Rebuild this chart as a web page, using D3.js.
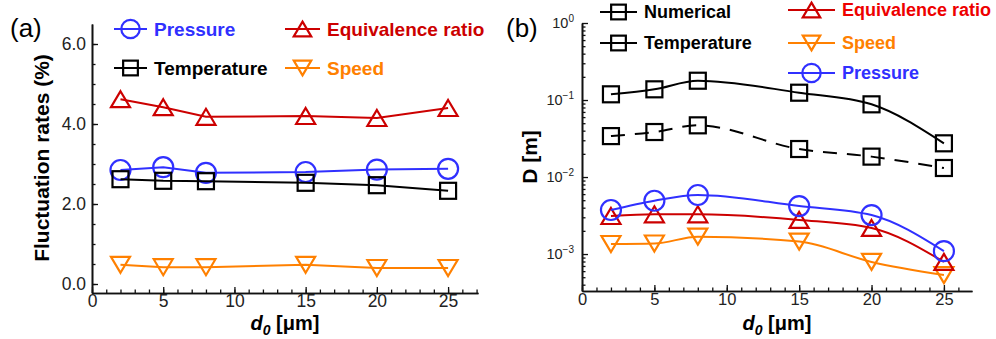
<!DOCTYPE html>
<html>
<head>
<meta charset="utf-8">
<script src="https://cdn.jsdelivr.net/npm/d3@7"></script>
<style>
  body { margin: 0; background: #fff; }
  text { font-family: "Liberation Sans", Arial, sans-serif; }
  .legendText, .axisTitle { font-weight: bold; }
  .tick text { fill: #222; }
</style>
</head>
<body>
<div id="chart"></div>
<script>
// Droplet diameters (x values, um)
var diameters = [2, 5, 8, 15, 20, 25];

// (a) fluctuation rates (%)
var fluctPressure = [2.85, 2.92, 2.78, 2.8, 2.86, 2.88];
var fluctTemperature = [2.62, 2.58, 2.57, 2.53, 2.47, 2.33];
var fluctEquivalence = [4.62, 4.42, 4.18, 4.2, 4.15, 4.4];
var fluctSpeed = [0.48, 0.42, 0.42, 0.48, 0.4, 0.4];

// (b) D [m]
var dNumerical = [0.1186, 0.1377, 0.178, 0.1244, 0.0879, 0.0274];
var dTemperature = [0.034, 0.0384, 0.0469, 0.0231, 0.0184, 0.0131];
var dEquivalence = [0.00312, 0.00328, 0.00328, 0.00277, 0.00218, 0.00079];
var dSpeed = [0.00135, 0.00137, 0.00168, 0.00145, 0.00079, 0.000533];
var dPressure = [0.00373, 0.00492, 0.00584, 0.0042, 0.00321, 0.00109];

// Tick labels
var xTicks = [0, 5, 10, 15, 20, 25];
var yTicksA = [0, 2, 4, 6];
var yExpB = [0, -1, -2, -3];

var width = 996;
var height = 339;

var red = "#cc0000";
var orange = "#ff8000";
var blue = "#3030ff";
var black = "#000000";

var svg = d3.select("#chart")
    .append("svg")
    .attr("width", width)
    .attr("height", height);

// Draw one hollow marker centred at (x, y)
function drawMarker(g, shape, x, y, color, size) {
    var s = size || 1;
    if (shape === "circle") {
        g.append("circle").attr("cx", x).attr("cy", y).attr("r", 10 * s);
    } else if (shape === "square") {
        g.append("rect").attr("x", x - 8 * s).attr("y", y - 8 * s)
            .attr("width", 16 * s).attr("height", 16 * s);
    } else if (shape === "up") {
        g.append("path").attr("d", `M${x},${y - 8 * s}L${x + 9.5 * s},${y + 8 * s}L${x - 9.5 * s},${y + 8 * s}Z`);
    } else {
        g.append("path").attr("d", `M${x},${y + 8 * s}L${x + 9.5 * s},${y - 8 * s}L${x - 9.5 * s},${y - 8 * s}Z`);
    }
    g.selectAll("*").attr("fill", "none").attr("stroke", color).attr("stroke-width", 2.2);
}

// Draw a series: line then markers
function drawSeries(xScale, yScale, values, shape, color, curve, dash) {
    var pts = diameters.map(function(d, i) { return [xScale(d), yScale(values[i])]; });
    var line = d3.line().curve(curve);
    svg.append("path")
        .attr("d", line(pts))
        .attr("fill", "none")
        .attr("stroke", color)
        .attr("stroke-width", 2)
        .attr("stroke-dasharray", dash || null);
    pts.forEach(function(p) {
        drawMarker(svg.append("g"), shape, p[0], p[1], color);
    });
}

// Legend entry
function legendItem(x0, x1, y, shape, color, label, textColor, fontSize) {
    svg.append("line")
        .attr("x1", x0).attr("x2", x1).attr("y1", y).attr("y2", y)
        .attr("stroke", color).attr("stroke-width", 2.2);
    drawMarker(svg.append("g"), shape, (x0 + x1) / 2, y, color, 0.92);
    svg.append("text")
        .attr("class", "legendText")
        .attr("x", x1 + 7)
        .attr("y", y)
        .attr("dy", "0.36em")
        .attr("font-size", fontSize)
        .attr("fill", textColor)
        .text(label);
}

function styleAxis(g) {
    g.selectAll("path.domain").attr("stroke", "#111").attr("stroke-width", 1.6);
    g.selectAll(".tick line").attr("stroke", "#111").attr("stroke-width", 1.3);
}

// minor ticks only, no labels
function minorAxis(g) {
    styleAxis(g);
    g.selectAll(".tick text").remove();
}

// ---------- Panel (a) ----------
var xA = d3.scaleLinear().domain([0, 27.1]).range([92, 478]);
var yA = d3.scaleLinear().domain([-0.225, 6.5]).range([293, 24]);

svg.append("g")
    .attr("transform", "translate(0,293)")
    .call(d3.axisBottom(xA).tickValues(d3.range(0, 28, 1)).tickSize(-3.5).tickSizeOuter(0))
    .call(minorAxis);
svg.append("g")
    .attr("transform", "translate(0,293)")
    .call(d3.axisBottom(xA).tickValues(xTicks).tickSize(-6).tickPadding(2).tickSizeOuter(0))
    .call(styleAxis)
    .selectAll("text").attr("font-size", 17.5);

svg.append("g")
    .attr("transform", "translate(92,0)")
    .call(d3.axisLeft(yA).tickValues(d3.range(0, 6.5, 0.5)).tickSize(-3.5).tickSizeOuter(0))
    .call(minorAxis);
svg.append("g")
    .attr("transform", "translate(92,0)")
    .call(d3.axisLeft(yA).tickValues(yTicksA).tickSize(-6).tickPadding(6).tickFormat(d3.format(".1f")).tickSizeOuter(0))
    .call(styleAxis)
    .selectAll("text").attr("font-size", 17.5);

drawSeries(xA, yA, fluctEquivalence, "up", red, d3.curveLinear);
drawSeries(xA, yA, fluctPressure, "circle", blue, d3.curveLinear);
drawSeries(xA, yA, fluctTemperature, "square", black, d3.curveLinear);
drawSeries(xA, yA, fluctSpeed, "down", orange, d3.curveLinear);

legendItem(114, 147, 29, "circle", blue, "Pressure", blue, 19);
legendItem(114, 147, 68, "square", black, "Temperature", black, 19);
legendItem(285, 320, 29, "up", red, "Equivalence ratio", red, 19);
legendItem(285, 320, 68, "down", orange, "Speed", orange, 19);

svg.append("text")
    .attr("class", "axisTitle")
    .attr("transform", "translate(49,158)rotate(-90)")
    .attr("text-anchor", "middle")
    .attr("font-size", 21)
    .text("Fluctuation rates (%)");

svg.append("text").attr("x", 10).attr("y", 37).attr("font-size", 26).text("(a)");

// ---------- Panel (b) ----------
var xB = d3.scaleLinear().domain([0, 26.94]).range([582, 972]);
var yB = d3.scaleLog().domain([Math.pow(10, -3.48), 1]).range([291, 23]);

var minorLog = [];
[-4, -3, -2, -1].forEach(function(e) {
    d3.range(2, 10).forEach(function(k) {
        var v = k * Math.pow(10, e);
        if (v >= yB.domain()[0]) minorLog.push(v);
    });
});

svg.append("g")
    .attr("transform", "translate(0,291)")
    .call(d3.axisBottom(xB).tickValues(d3.range(0, 27, 1)).tickSize(-3.5).tickSizeOuter(0))
    .call(minorAxis);
svg.append("g")
    .attr("transform", "translate(0,291)")
    .call(d3.axisBottom(xB).tickValues(xTicks).tickSize(-6).tickPadding(2).tickSizeOuter(0))
    .call(styleAxis)
    .selectAll("text").attr("font-size", 16.5);

svg.append("g")
    .attr("transform", "translate(582,0)")
    .call(d3.axisLeft(yB).tickValues(minorLog).tickSize(-3.5).tickSizeOuter(0))
    .call(minorAxis);
var yAxisB = svg.append("g")
    .attr("transform", "translate(582,0)")
    .call(d3.axisLeft(yB).tickValues(yExpB.map(function(e) { return Math.pow(10, e); }))
        .tickSize(-6).tickPadding(8).tickFormat("").tickSizeOuter(0))
    .call(styleAxis);

// Power-of-ten labels with superscripts
yAxisB.selectAll(".tick text").each(function(d, i) {
    var t = d3.select(this).attr("font-size", 14.5);
    t.append("tspan").text("10");
    t.append("tspan").attr("font-size", 10).attr("dy", -6).text(yExpB[i] === 0 ? "0" : "\u2212" + (-yExpB[i]));
});

drawSeries(xB, yB, dNumerical, "square", black, d3.curveMonotoneX);
drawSeries(xB, yB, dTemperature, "square", black, d3.curveMonotoneX, "14,10");
drawSeries(xB, yB, dSpeed, "down", orange, d3.curveMonotoneX);
drawSeries(xB, yB, dEquivalence, "up", red, d3.curveMonotoneX);
drawSeries(xB, yB, dPressure, "circle", blue, d3.curveMonotoneX);

legendItem(600, 637, 12, "square", black, "Numerical", black, 18);
legendItem(600, 637, 43, "square", black, "Temperature", black, 18);
legendItem(788, 835, 10, "up", red, "Equivalence ratio", "#ee0000", 18);
legendItem(788, 835, 43, "down", orange, "Speed", orange, 18);
legendItem(788, 835, 73, "circle", blue, "Pressure", blue, 18);

svg.append("text")
    .attr("class", "axisTitle")
    .attr("transform", "translate(537,157)rotate(-90)")
    .attr("text-anchor", "middle")
    .attr("font-size", 21)
    .text("D [m]");

svg.append("text").attr("x", 506).attr("y", 37).attr("font-size", 26).text("(b)");

// x-axis titles: d0 [um]
[285, 777].forEach(function(cx) {
    var t = svg.append("text")
        .attr("class", "axisTitle")
        .attr("x", cx)
        .attr("y", 330)
        .attr("text-anchor", "middle")
        .attr("font-size", 20);
    t.append("tspan").attr("font-style", "italic").text("d");
    t.append("tspan").attr("font-style", "italic").attr("font-size", 14).attr("dy", 5).text("0");
    t.append("tspan").attr("dy", -5).text(" [\u03bcm]");
});
</script>
</body>
</html>
